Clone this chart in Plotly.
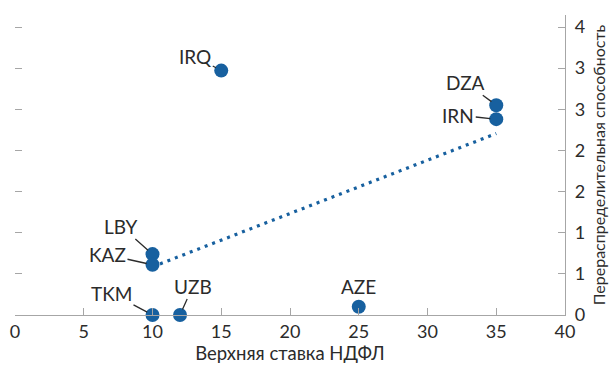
import numpy as np
import plotly.graph_objects as go

# Country data: top personal income tax rate vs redistributive capacity
countries = ["IRQ", "DZA", "IRN", "LBY", "KAZ", "TKM", "UZB", "AZE"]
top_rate = [15, 35, 35, 10, 10, 10, 12, 25]
redistribution = [2.97, 2.55, 2.38, 0.74, 0.61, 0.0, 0.0, 0.10]

# Label offsets (pixels) relative to each marker
label_dx = [-26, -31, -38, -32, -45, -41, 13, 0]
label_dy = [-14, -23, -4, -28, -10, -22, -29, -20]
label_line = [True, True, True, True, True, True, True, False]

# Axis ticks
x_ticks = [0, 5, 10, 15, 20, 25, 30, 35, 40]
y_tickvals = [0, 0.5, 1, 1.5, 2, 2.5, 3, 3.5]
y_ticktext = ["0", "1", "1", "2", "2", "3", "3", "4"]

BLUE = "#17609f"
TEXT = "#2b2b2b"
FONT = "Lato"

# Linear trend fitted over all countries
slope, intercept = np.polyfit(top_rate, redistribution, 1)
trend_x = np.array([min(top_rate), max(top_rate)])
trend_y = slope * trend_x + intercept

fig = go.Figure()

fig.add_trace(go.Scatter(
    x=trend_x, y=trend_y, mode="lines",
    line=dict(color=BLUE, width=3.2, dash="3px,5px"),
    hoverinfo="skip", showlegend=False,
))

fig.add_trace(go.Scatter(
    x=top_rate, y=redistribution, mode="markers",
    marker=dict(color=BLUE, size=14, line=dict(width=0)),
    text=countries, showlegend=False, cliponaxis=False,
))

# Invisible trace so the right-hand axis is drawn
fig.add_trace(go.Scatter(
    x=[top_rate[0]], y=[redistribution[0]], yaxis="y2",
    mode="markers", marker=dict(opacity=0), hoverinfo="skip", showlegend=False,
))

for c, x, y, dx, dy, ln in zip(countries, top_rate, redistribution,
                               label_dx, label_dy, label_line):
    fig.add_annotation(
        x=x, y=y, text=c, ax=dx, ay=dy, axref="pixel", ayref="pixel",
        showarrow=True, arrowhead=0, arrowwidth=1.3,
        arrowcolor=TEXT if ln else "rgba(0,0,0,0)",
        standoff=6, startstandoff=0,
        font=dict(family=FONT, size=19, color=TEXT),
    )

y_range = [0, 3.646]

fig.update_layout(
    width=611, height=368,
    margin=dict(l=15, r=46, t=15, b=53),
    paper_bgcolor="white", plot_bgcolor="white",
    font=dict(family=FONT, color=TEXT, size=18),
    xaxis=dict(
        range=[0, 40], tickvals=x_ticks, showgrid=False, zeroline=False,
        showline=True, linecolor="#a6a6a6", linewidth=1.2,
        ticks="inside", ticklen=7, tickcolor="#a6a6a6",
        tickfont=dict(size=18, color=TEXT), automargin=False,
        title=dict(text="Верхняя ставка НДФЛ", font=dict(size=18.5, color=TEXT), standoff=4),
    ),
    yaxis=dict(
        range=y_range, tickvals=y_tickvals, showticklabels=False,
        showgrid=False, zeroline=False, showline=False, automargin=False,
        ticks="inside", ticklen=7, tickcolor="#a6a6a6",
    ),
    yaxis2=dict(
        range=y_range, overlaying="y", side="right", anchor="x",
        tickvals=y_tickvals, ticktext=y_ticktext,
        showgrid=False, zeroline=False, automargin=False,
        showline=True, linecolor="#a6a6a6", linewidth=1.2,
        ticks="inside", ticklen=7, tickcolor="#a6a6a6",
        ticklabelstandoff=5,
        tickfont=dict(size=18, color=TEXT),
        title=dict(text="Перераспределительная способность",
                   font=dict(size=16, color=TEXT), standoff=9),
    ),
)

fig.write_html("out.html")
